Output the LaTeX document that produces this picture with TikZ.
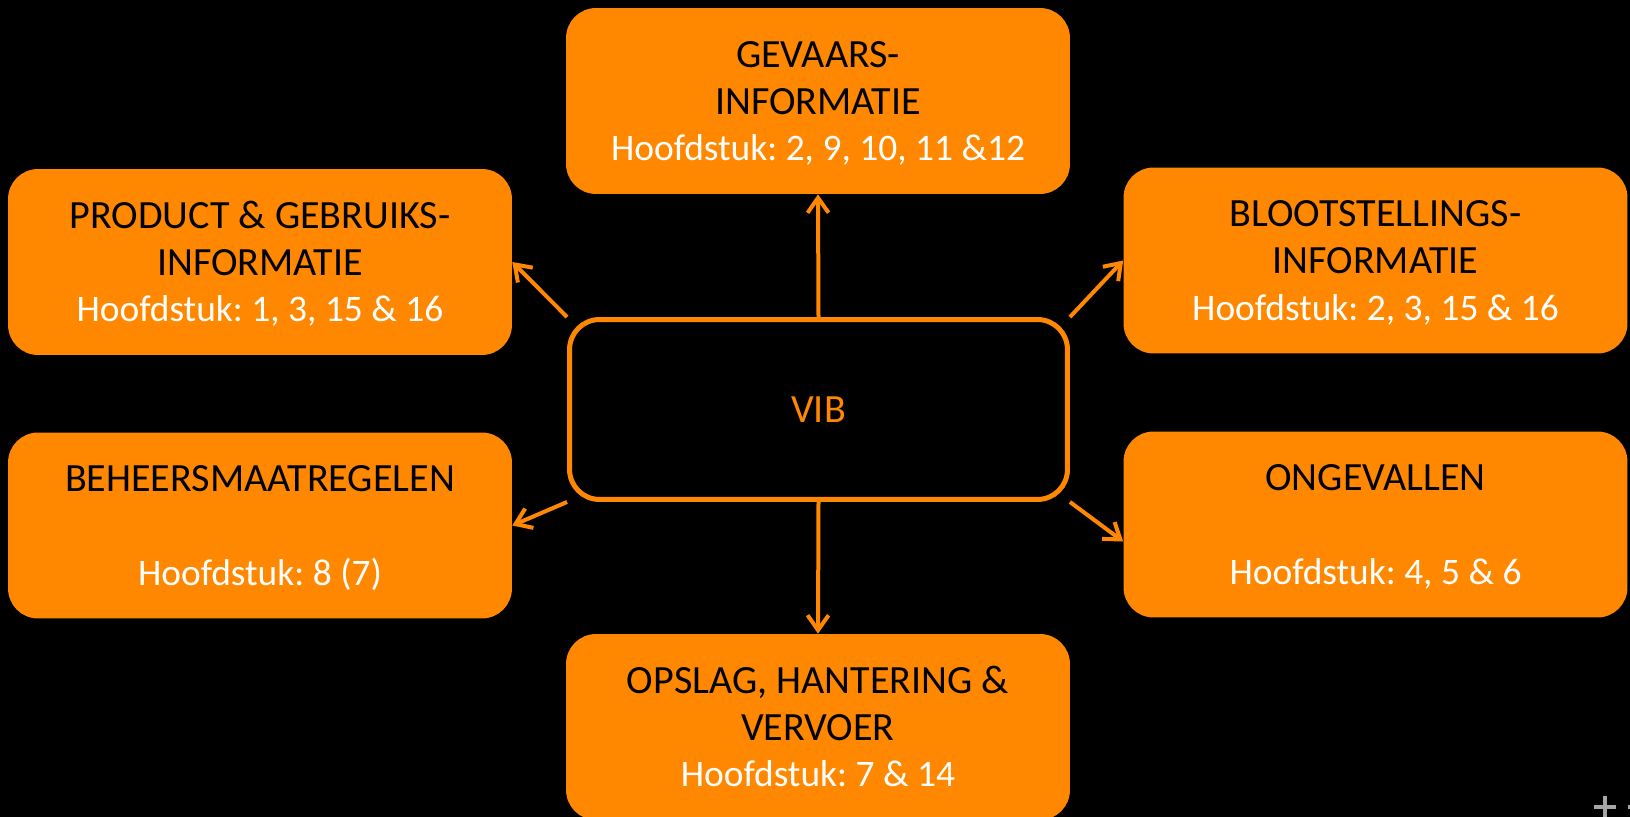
\documentclass[tikz,border=0pt]{standalone}
\usepackage{fontspec}
\setmainfont{Carlito}
\usetikzlibrary{arrows.meta,calc}

\definecolor{vibOrange}{RGB}{255,136,0}
\newcommand{\hoofd}[1]{\textcolor{white}{\fontsize{21.3}{26.6}\selectfont #1}\rule[-6pt]{0pt}{6pt}}
\newcommand{\info}[2]{\rule{0pt}{21pt}#1\\\hoofd{#2}}
\frenchspacing

\tikzset{
    infobox/.style={fill=vibOrange, rounded corners=0.6cm, minimum width=10.08cm,
        minimum height=3.72cm, align=center, text=black,
        font=\fontsize{22.8}{26.6}\selectfont},
    vibbox/.style={draw=vibOrange, line width=0.1cm, fill=black, rounded corners=0.6cm,
        minimum width=9.96cm, minimum height=3.6cm, text=vibOrange,
        font=\fontsize{22.8}{26.6}\selectfont},
    link/.style={draw=vibOrange, line width=0.08cm,
        -{Straight Barb[length=0.3cm, width=0.42cm]}}
}

\begin{document}
\begin{tikzpicture}[x=0.02cm, y=-0.02cm]
            \useasboundingbox (0, 0) rectangle (1630, 817);
            \fill[black] (0, 0) rectangle (1630, 817);

            % centre
            \node[vibbox] (vib) at (818.5, 409.5) {VIB};

            % boxes around it
            \node[infobox] (gev) at (818, 101) {\info{GEVAARS-\\INFORMATIE}{Hoofdstuk: 2, 9, 10, 11 \&12}};
            \node[infobox] (pgi) at (260, 262) {\info{PRODUCT \& GEBRUIKS-\\INFORMATIE}{Hoofdstuk: 1, 3, 15 \& 16}};
            \node[infobox] (blo) at (1375.5, 260.5) {\info{BLOOTSTELLINGS-\\INFORMATIE}{Hoofdstuk: 2, 3, 15 \& 16}};
            \node[infobox] (beh) at (260, 525.5) {\info{BEHEERSMAATREGELEN\\\mbox{}}{Hoofdstuk: 8 (7)}};
            \node[infobox] (ong) at (1375.5, 524.5) {\info{ONGEVALLEN\\\mbox{}}{Hoofdstuk: 4, 5 \& 6}};
            \node[infobox] (opv) at (818, 727) {\info{OPSLAG, HANTERING \&\\VERVOER}{Hoofdstuk: 7 \& 14}};

            % arrows
            \draw[link] (vib.north) -- (gev.south);
            \draw[link] (vib.south) -- (opv.north);
            \draw[link] (vib.north west) -- (pgi.east);
            \draw[link] (vib.north east) -- (blo.west);
            \draw[link] (vib.south west) -- (beh.east);
            \draw[link] (vib.south east) -- ($(ong.west)+(0, 17)$);

            % slide mark in the corner
            \draw[gray!70, line width=0.08cm] (1594, 807) -- (1616, 807);
            \draw[gray!70, line width=0.08cm] (1605, 796) -- (1605, 818);
            \draw[gray!70, line width=0.08cm] (1628, 807) -- (1631, 807);

        \end{tikzpicture}
\end{document}
